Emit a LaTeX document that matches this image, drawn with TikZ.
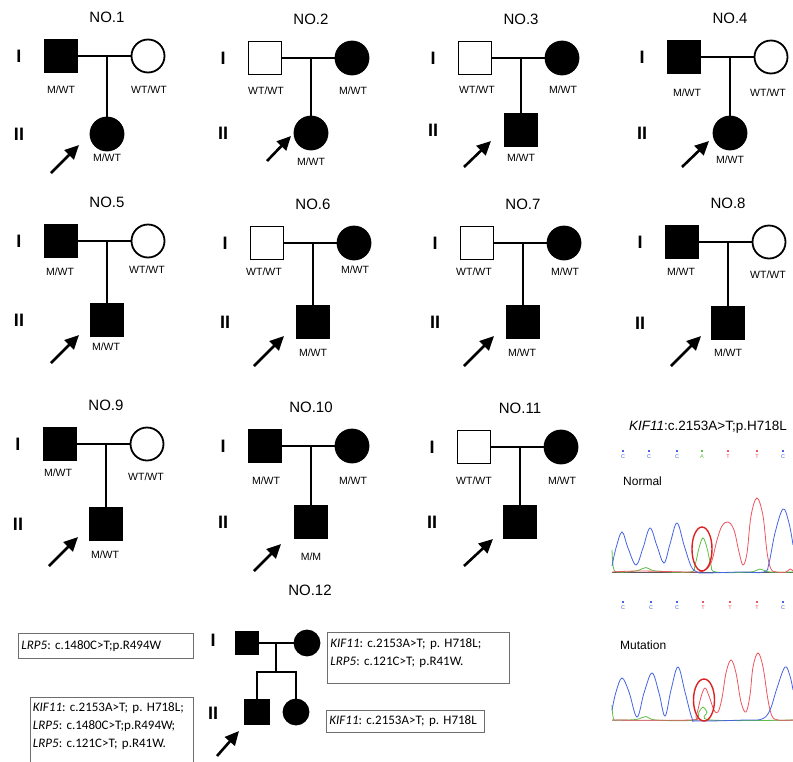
\documentclass[tikz,border=0pt]{standalone}
\usepackage{fontspec}
\setmainfont{Liberation Sans}
\newfontfamily\calib{Carlito}
\usetikzlibrary{arrows.meta}
\definecolor{tblue}{RGB}{70,100,225}
\definecolor{tred}{RGB}{235,85,95}
\definecolor{tgreen}{RGB}{95,190,70}
\definecolor{ringred}{RGB}{220,35,35}
\definecolor{boxgray}{RGB}{110,110,110}
\tikzset{
 sq/.style={rectangle, draw, line width=1.8pt, minimum size=33pt, inner sep=0pt},
 ci/.style={circle, draw, line width=1.8pt, minimum size=33pt, inner sep=0pt},
 sqs/.style={rectangle, draw, line width=1.8pt, minimum size=23pt, inner sep=0pt},
 cis/.style={circle, draw, line width=1.8pt, minimum size=25pt, inner sep=0pt},
 aff/.style={fill=black},
 un/.style={fill=white},
 pl/.style={line width=1.7pt},
 pls/.style={line width=2.2pt},
 arr/.style={line width=2.6pt, -{Triangle[length=14pt,width=13pt]}},
 gt/.style={font=\fontsize{10.5}{11}\selectfont, inner sep=0pt},
 ttl/.style={font=\fontsize{15}{16}\selectfont, inner sep=0pt},
 gen/.style={font=\bfseries\fontsize{18}{19}\selectfont, inner sep=0pt},
 box/.style={draw=boxgray, line width=0.9pt, font=\calib\fontsize{13}{18}\selectfont\frenchspacing, align=left, inner xsep=3pt, anchor=north west},
 blab/.style={font=\fontsize{5.5}{6}\selectfont, inner sep=0.4pt},
 trace/.style={line width=0.8pt, smooth, tension=0.6},
 ring/.style={draw=ringred, line width=1.4pt},
 ctext/.style={font=\fontsize{12}{13}\selectfont, inner sep=0pt, anchor=west},
}
% #1 prefix, #2 number, #3 x of descent line, #4 y of row I, #5 y of row II,
% #6 father style, #7 mother style, #8 child style
\newcommand\pedfam[8]{%
 \node[ttl] (#1t) at (#3,{#4-39}) {NO.#2};
 \node[gen] (#1g1) at ({#3-88},#4) {I};
 \node[gen] (#1g2) at ({#3-88},#5) {II};
 \node[#6] (#1f) at ({#3-46},#4) {};
 \node[#7] (#1m) at ({#3+41},#4) {};
 \node[#8] (#1c) at (#3,#5) {};
 \coordinate (#1d) at (#3,#4);
 \draw[pl] (#1f) -- (#1m);
 \draw[pl] (#1d) -- (#1c);
}
\begin{document}
\begin{tikzpicture}[x=1pt,y=-1pt]
\fill[white] (0,0) rectangle (793,761);
\useasboundingbox (0,0) rectangle (793,761);

% ---------- row 1 ----------
\pedfam{pa}{1}{107}{56}{134}{sq,aff}{ci,un}{ci,aff}
\node[gt] (paf) at (61,90) {M/WT};
\node[gt] (pam) at (149,90) {WT/WT};
\node[gt] (pac) at (107,158) {M/WT};
\coordinate (paa1) at (51,173); \coordinate (paa2) at (79,145);
\draw[arr] (paa1) -- (paa2);

\pedfam{pb}{2}{311}{58}{133}{sq,un}{ci,aff}{ci,aff}
\node[gt] (pbf) at (266,91) {WT/WT};
\node[gt] (pbm) at (353,91) {M/WT};
\node[gt] (pbc) at (311,162) {M/WT};
\coordinate (pba1) at (267,161); \coordinate (pba2) at (291,136);
\draw[arr] (pba1) -- (pba2);

\pedfam{pc}{3}{521}{58}{130}{sq,un}{ci,aff}{sq,aff}
\node[gt] (pcf) at (477,90) {WT/WT};
\node[gt] (pcm) at (563,90) {M/WT};
\node[gt] (pcc) at (521,158) {M/WT};
\coordinate (pca1) at (464,167); \coordinate (pca2) at (491,141);
\draw[arr] (pca1) -- (pca2);

\pedfam{pd}{4}{730}{57}{133}{sq,aff}{ci,un}{ci,aff}
\node[gt] (pdf) at (687,93) {M/WT};
\node[gt] (pdm) at (768,93) {WT/WT};
\node[gt] (pdc) at (730,160) {M/WT};
\coordinate (pda1) at (682,167); \coordinate (pda2) at (709,141);
\draw[arr] (pda1) -- (pda2);

% ---------- row 2 ----------
\pedfam{pe}{5}{107}{241}{320}{sq,aff}{ci,un}{sq,aff}
\node[gt] (pef) at (60,272) {M/WT};
\node[gt] (pem) at (147,270) {WT/WT};
\node[gt] (pec) at (106,347) {M/WT};
\coordinate (pea1) at (51,363); \coordinate (pea2) at (79,335);
\draw[arr] (pea1) -- (pea2);

\pedfam{pf}{6}{313}{243}{322}{sq,un}{ci,aff}{sq,aff}
\node[gt] (pff) at (264,272) {WT/WT};
\node[gt] (pfm) at (355,270) {M/WT};
\node[gt] (pfc) at (313,353) {M/WT};
\coordinate (pfa1) at (254,366); \coordinate (pfa2) at (284,336);
\draw[arr] (pfa1) -- (pfa2);

\pedfam{pg}{7}{523}{243}{322}{sq,un}{ci,aff}{sq,aff}
\node[gt] (pgf) at (474,272) {WT/WT};
\node[gt] (pgm) at (565,272) {M/WT};
\node[gt] (pgc) at (522,353) {M/WT};
\coordinate (pga1) at (464,366); \coordinate (pga2) at (494,336);
\draw[arr] (pga1) -- (pga2);

\pedfam{ph}{8}{728}{242}{323}{sq,aff}{ci,un}{sq,aff}
\node[gt] (phf) at (681,272) {M/WT};
\node[gt] (phm) at (768,275) {WT/WT};
\node[gt] (phc) at (728,353) {M/WT};
\coordinate (pha1) at (671,366); \coordinate (pha2) at (701,336);
\draw[arr] (pha1) -- (pha2);

% ---------- row 3 ----------
\pedfam{pi}{9}{106}{444}{524}{sq,aff}{ci,un}{sq,aff}
\node[gt] (pif) at (58,473) {M/WT};
\node[gt] (pim) at (146,477) {WT/WT};
\node[gt] (pic) at (105,555) {M/WT};
\coordinate (pia1) at (49,566); \coordinate (pia2) at (78,537);
\draw[arr] (pia1) -- (pia2);

\pedfam{pj}{10}{311}{446}{522}{sq,aff}{ci,aff}{sq,aff}
\node[gt] (pjf) at (266,481) {M/WT};
\node[gt] (pjm) at (353,481) {M/WT};
\node[gt] (pjc) at (311,557) {M/M};
\coordinate (pja1) at (254,571); \coordinate (pja2) at (281,544);
\draw[arr] (pja1) -- (pja2);

\pedfam{pk}{11}{520}{447}{522}{sq,un}{ci,aff}{sq,aff}
\node[gt] (pkf) at (474,481) {WT/WT};
\node[gt] (pkm) at (562,481) {M/WT};
\coordinate (pka1) at (464,566); \coordinate (pka2) at (493,539);
\draw[arr] (pka1) -- (pka2);

% ---------- NO.12 ----------
\node[ttl] (plt) at (310,590) {NO.12};
\node[gen] (plg1) at (213,640) {I};
\node[gen] (plg2) at (213,713) {II};
\node[sqs,aff] (plf) at (247,643) {};
\node[cis,aff] (plm) at (307,643) {};
\node[sqs,aff,minimum size=24pt] (plc1) at (257,712) {};
\node[cis,aff] (plc2) at (296,712) {};
\coordinate (pld) at (276,643);
\coordinate (pls) at (276,672);
\coordinate (plsl) at (257,672);
\coordinate (plsr) at (296,672);
\draw[pls] (plf) -- (plm);
\draw[pls] (pld) -- (pls);
\draw[pls] (plc1.north) -- (plsl) -- (plsr) -- (plc2.north);
\coordinate (pla1) at (217,756); \coordinate (pla2) at (239,731);
\draw[arr] (pla1) -- (pla2);

\node[box, text width=169pt, minimum height=25pt] (bxa) at (18,633)
 {\textit{LRP5}: c.1480C>T;p.R494W};
\node[box, text width=176pt, inner ysep=6.5pt] (bxb) at (327,632)
 {\textit{KIF11}: c.2153A>T; p. H718L;\\\textit{LRP5}: c.121C>T; p.R41W.\rule[-11pt]{0pt}{11pt}};
\node[box, text width=158pt, inner xsep=2.5pt, inner ysep=5.6pt] (bxc) at (30,697)
 {\textit{KIF11}: c.2153A>T; p. H718L;\\\textit{LRP5}: c.1480C>T;p.R494W;\\\textit{LRP5}: c.121C>T; p.R41W.\rule[-25pt]{0pt}{25pt}};
\node[box, text width=152pt, minimum height=22pt] (bxd) at (326,710)
 {\textit{KIF11}: c.2153A>T; p. H718L};

% ---------- chromatogram ----------
\node[font=\fontsize{13.5}{14}\selectfont, inner sep=0pt] (cht) at (708,427) {\textit{KIF11}:c.2153A>T;p.H718L};
\node[ctext] (chn) at (623,481) {Normal};
\node[ctext] (chm) at (620,645) {Mutation};

% base calls
\foreach \x/\c/\b [count=\i] in {623/tblue/C,649/tblue/C,677/tblue/C,702/tgreen/A,728/tred/T,757/tred/T,783/tblue/C}{
 \fill[\c] (\x-1.3,449.5) rectangle (\x+1.3,452.3);
 \node[blab,text=\c] (bn\i) at (\x,457) {\b};
}
\foreach \x/\c/\b [count=\i] in {623/tblue/C,651/tblue/C,677/tblue/C,703/tred/T,730/tred/T,757/tred/T,783/tblue/C}{
 \fill[\c] (\x-1.3,600.5) rectangle (\x+1.3,603.3);
 \node[blab,text=\c] (bm\i) at (\x,608) {\b};
}

% normal traces
\draw[gray!70!black, line width=0.9pt] (612,572.5) -- (793,572.5);
\draw[tgreen, trace] plot coordinates {(612,550) (613.5,568) (618,572) (636,571) (646,567.5) (656,571) (690,572) (695,565) (699,548) (703,538) (707,548) (711,565) (716,572) (750,572) (760,569) (770,572) (793,572)};
\draw[tred, trace] plot coordinates {(612,572) (640,571) (690,572) (703,571) (711,563) (717,540) (722,526) (728,522) (734,530) (739,552) (743,565) (747,553) (751,516) (757,498) (763,516) (767,552) (771,569) (777,572) (786,572) (790,569) (793,571)};
\draw[tblue, trace] plot coordinates {(612,566) (616,548) (622,532) (628,548) (636,565) (643,548) (650,528) (657,546) (664,563) (670,544) (677,523) (684,545) (691,566) (697,572) (705,573) (740,572) (764,572) (769,563) (775,533) (783,509) (789,523) (793,545)};
\draw[ring] (702,549) ellipse [x radius=10pt, y radius=22pt];

% mutation traces
\draw[gray!60, line width=0.9pt] (612,720.5) -- (793,720.5);
\draw[tgreen, trace] plot coordinates {(612,705) (613.5,719) (618,720) (636,719.5) (646,716.5) (656,720) (694,720) (699,712) (703,707) (707,712) (711,720) (793,720)};
\draw[tred, trace] plot coordinates {(612,720) (690,720) (696,716) (701,697) (705,688) (709,696) (714,710) (718,712) (722,698) (726,673) (731,660) (736,673) (741,702) (746,712) (750,695) (753,667) (758,653) (763,667) (768,700) (772,716) (778,720) (793,720)};
\draw[tblue, trace] plot coordinates {(612,710) (616,692) (622,678) (629,692) (637,717) (644,693) (652,673) (659,693) (665,716) (671,690) (678,667) (685,692) (692,718) (698,721) (745,720) (762,719) (770,710) (777,688) (785,667) (790,676) (793,690)};
\draw[ring] (704,700) ellipse [x radius=10.5pt, y radius=21pt];
\end{tikzpicture}
\end{document}
